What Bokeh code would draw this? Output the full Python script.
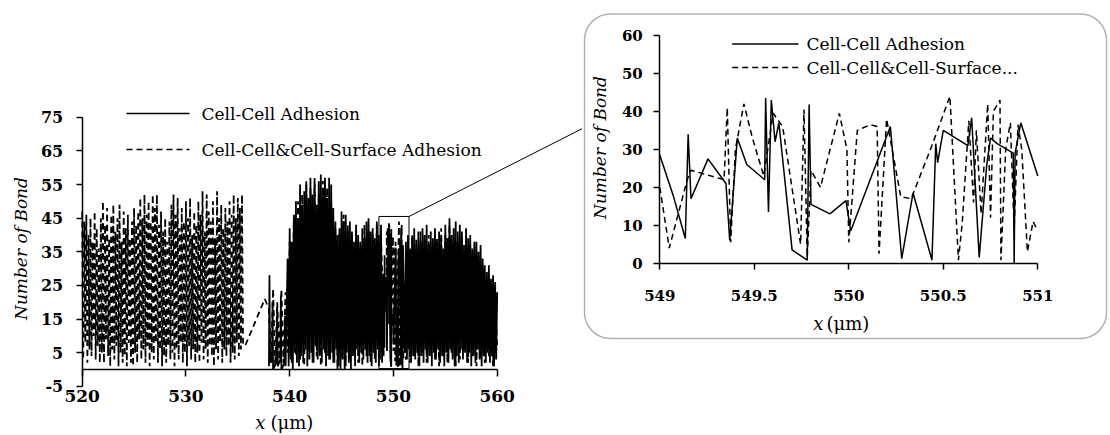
import math
from bokeh.plotting import figure
from bokeh.layouts import row
from bokeh.models import Label, Arrow, FixedTicker, Range1d, BoxAnnotation
from bokeh.embed import file_html
from bokeh.resources import INLINE

FONT = "DejaVu Serif"

# ---------------- data ----------------
series_names = ["Cell-Cell Adhesion", "Cell-Cell&Cell-Surface Adhesion"]
inset_names = ["Cell-Cell Adhesion", "Cell-Cell&Cell-Surface..."]

x_ticks_main = [520, 530, 540, 550, 560]
y_ticks_main = [-5, 5, 15, 25, 35, 45, 55, 65, 75]
y_tick_labels_main = ["-5", "5", "15", "25", "35", "45", "55", "65", "75"]
x_ticks_inset = [549, 549.5, 550, 550.5, 551]
x_tick_labels_inset = ["549", "549.5", "550", "550.5", "551"]
y_ticks_inset = [0, 10, 20, 30, 40, 50, 60]

# zoom window drawn on the main chart
zoom_box_x = [548.6, 551.5]
zoom_box_y = [0.3, 45.5]

# --- Cell-Cell Adhesion (solid) ---
cc_a_x = [538.0, 538.05, 538.1, 538.3, 538.35, 538.4, 538.7, 538.8, 538.85,
          539.1, 539.15, 539.2, 539.5, 539.55, 539.6]
cc_a_y = [1, 28, 2, 3, 20, 0, 2, 18, 1, 3, 22, 0, 2, 16, 1]
cc_b_start, cc_b_step = 539.8, 0.1
cc_b_y = [33, 1,
          42, 3, 38, 0, 46, 5, 50, 2, 44, 1,
          55, 4, 49, 2, 53, 6, 56, 1, 51, 3,
          57, 5, 52, 2, 55, 7, 49, 3, 56, 4,
          58, 2, 54, 6, 57, 1, 51, 4, 57, 3,
          55, 5, 48, 2, 43, 6, 40, 1, 42, 0,
          47, 3, 44, 0, 46, 5, 41, 2, 44, 0,
          41, 4, 38, 1, 43, 6, 40, 2, 37, 5,
          42, 3, 39, 6, 44, 2, 45, 4, 41, 1,
          42, 5, 39, 2, 44, 6, 40, 3, 43, 2]
cc_inset_x = [549.0, 549.07, 549.135, 549.15, 549.165, 549.255, 549.35, 549.37,
              549.41, 549.46, 549.555, 549.56, 549.575, 549.59, 549.61, 549.63,
              549.7, 549.78, 549.79, 549.8, 549.9, 549.985, 550.01, 550.22,
              550.28, 550.34, 550.44, 550.46, 550.47, 550.5, 550.63, 550.65,
              550.69, 550.73, 550.75, 550.785, 550.87, 550.875, 550.88, 550.91,
              551.0]
cc_inset_y = [28.5, 18, 6.5, 34, 17, 27.5, 21, 6,
              33, 26, 22, 43.5, 13.5, 43, 32, 37,
              3.5, 0.8, 41.8, 15.5, 13, 16.5, 8.5, 36,
              1.2, 18.5, 0.8, 31.5, 26.5, 35, 31, 38.3,
              1.5, 26, 33, 31.5, 29, 0, 29, 37,
              23]
cc_c_start, cc_c_step = 551.1, 0.1
cc_c_y = [5, 38, 3, 40, 6, 36, 2, 39, 4,
          42, 3, 37, 5, 41, 1, 38, 4, 42, 2,
          40, 6, 43, 2, 37, 4, 41, 1, 39, 5,
          42, 3, 38, 6, 41, 2, 39, 4, 36, 1,
          43, 5, 39, 2, 45, 6, 40, 3, 42, 1,
          44, 4, 38, 2, 43, 6, 41, 3, 37, 5,
          42, 2, 39, 5, 40, 1, 36, 4, 38, 2,
          38, 6, 35, 3, 37, 1, 33, 4, 31, 2,
          29, 5, 31, 2, 27, 4, 28, 1, 26, 3,
          23]

# --- Cell-Cell & Cell-Surface Adhesion (dashed) ---
ccs_a_start, ccs_a_step = 520.0, 0.1
ccs_a_y = [47, 3, 44, 8, 46, 2, 40, 6, 45, 4,
           38, 10, 47, 3, 42, 7, 36, 2, 45, 5,
           50, 2, 43, 9, 48, 4, 39, 1, 46, 6,
           49, 3, 41, 7, 45, 1, 49, 5, 38, 2,
           47, 4, 42, 1, 46, 8, 39, 2, 44, 1,
           48, 5, 43, 2, 47, 9, 51, 3, 45, 6,
           52, 2, 46, 7, 50, 1, 44, 5, 52, 3,
           48, 8, 52, 2, 43, 6, 47, 1, 41, 4,
           45, 2, 38, 7, 44, 3, 49, 5, 52, 1,
           46, 6, 51, 3, 42, 8, 48, 2, 44, 5,
           50, 1, 45, 7, 51, 3, 40, 6, 47, 2,
           43, 5, 50, 2, 46, 8, 53, 3, 41, 6,
           52, 2, 47, 7, 44, 4, 50, 1, 39, 6,
           53, 3, 45, 8, 49, 2, 42, 6, 48, 4,
           44, 7, 50, 2, 46, 5, 52, 3, 45, 8,
           51, 4, 48, 6, 52, 8]
ccs_b_x = [535.7, 537.6]
ccs_b_y = [7, 21]
ccs_c_start, ccs_c_step = 538.0, 0.2
ccs_c_y = [18, 2, 24, 1, 20,
           3, 24, 2, 23, 5,
           38, 2, 45, 4, 50,
           3, 52, 1, 55, 6,
           54, 2, 57, 4, 52,
           1, 56, 5, 54, 3,
           50, 2, 44, 0, 41,
           4, 46, 1, 43, 3,
           40, 5, 42, 2, 38,
           1, 43, 4, 41, 2,
           40, 3, 43, 1, 39]
ccs_inset_x = [549.0, 549.05, 549.145, 549.165, 549.235, 549.34, 549.357, 549.375,
               549.4, 549.445, 549.49, 549.55, 549.6, 549.65, 549.745, 549.763,
               549.78, 549.8, 549.85, 549.95, 549.99, 550.0, 550.045, 550.115,
               550.15, 550.16, 550.2, 550.275, 550.33, 550.44, 550.535, 550.58,
               550.6, 550.635, 550.66, 550.675, 550.7, 550.735, 550.75, 550.765,
               550.8, 550.805, 550.83, 550.855, 550.875, 550.895, 550.915, 550.945,
               550.975, 551.0]
ccs_inset_y = [20, 4, 22, 24.5, 23.5, 22, 41, 5.5,
               30, 42, 33, 23, 39.5, 36, 5, 40.5,
               1.5, 24.5, 20, 39.5, 30, 5.5, 35, 36.5,
               36, 2.5, 38, 17.5, 17, 31, 44, 0.8,
               10.5, 37.5, 16, 35, 13, 42, 12, 40,
               43, 0.8, 30, 37, 9, 36.5, 30, 3,
               11, 8.5]
ccs_d_start, ccs_d_step = 551.2, 0.2
ccs_d_y = [3, 38, 2, 40,
           4, 39, 1, 41, 5,
           38, 2, 40, 6, 37,
           3, 39, 1, 42, 4,
           40, 2, 43, 5, 38,
           1, 41, 3, 39, 6,
           38, 2, 37, 4, 35,
           1, 34, 3, 30, 2,
           27, 4, 25, 1, 22,
           6]


def grid(start, step, n):
    return [round(start + step * i, 3) for i in range(n)]


cc_x = cc_a_x + grid(cc_b_start, cc_b_step, len(cc_b_y)) + cc_inset_x + grid(cc_c_start, cc_c_step, len(cc_c_y))
cc_y = cc_a_y + cc_b_y + cc_inset_y + cc_c_y
ccs_x = (grid(ccs_a_start, ccs_a_step, len(ccs_a_y)) + ccs_b_x
         + grid(ccs_c_start, ccs_c_step, len(ccs_c_y)) + ccs_inset_x
         + grid(ccs_d_start, ccs_d_step, len(ccs_d_y)))
ccs_y = ccs_a_y + ccs_b_y + ccs_c_y + ccs_inset_y + ccs_d_y

# ---------------- layout geometry (pixels) ----------------
DASH = "6 4"
LW = 1.5          # inset / legend lines
LW_MAIN = 1.8     # dense main-chart lines
H = 433

MAIN_W = 582
M_X0, M_X1 = 81.7, 496.7      # canvas x of 520 and 560
M_YT, M_YB = 116.7, 385.9     # canvas y (from top) of 75 and -5

INS_W = 526                    # inset canvas starts at page x = MAIN_W
I_X0, I_X1 = 77.3, 455.3      # canvas x of 549 and 551
I_YT, I_YB = 35.0, 262.7      # canvas y (from top) of 60 and 0
BOX = (2, 524, 13.5, 338)      # rounded frame: left, right, top, bottom (canvas px)


def ranges(x_lo, x_hi, px0, px1, y_lo, y_hi, py_top, py_bot, w, h):
    sx = (px1 - px0) / (x_hi - x_lo)
    sy = (py_bot - py_top) / (y_hi - y_lo)
    xr = Range1d(x_lo - px0 / sx, x_hi + (w - px1) / sx)
    yr = Range1d(y_lo - (h - py_bot) / sy, y_hi + py_top / sy)
    return xr, yr


def style_axis(ax, size, tick_out, standoff):
    ax.axis_line_color = "black"
    ax.axis_line_width = 1.5
    ax.major_tick_line_color = "black"
    ax.major_tick_line_width = 1.5
    ax.major_tick_in = 0
    ax.major_tick_out = tick_out
    ax.minor_tick_line_color = None
    ax.major_label_text_font = FONT
    ax.major_label_text_font_style = "bold"
    ax.major_label_text_font_size = size
    ax.major_label_text_color = "black"
    ax.major_label_standoff = standoff


def label(fig, x, y, text, size="17px", style="normal", align="left", angle=0.0):
    # x: pixels from the canvas left; y: pixels from the canvas top
    fig.add_layout(Label(x=x, y=H - y, x_units="screen", y_units="screen", text=text,
                         text_font=FONT, text_font_size=size, text_font_style=style,
                         text_align=align, text_baseline="middle", text_color="black",
                         angle=angle))


def hline(fig, x0, x1, y, dash="solid"):
    fig.add_layout(Arrow(end=None, x_start=x0, y_start=H - y, x_end=x1, y_end=H - y,
                         start_units="screen", end_units="screen",
                         line_color="black", line_width=LW, line_dash=dash))


# ---------------- main chart ----------------
xr, yr = ranges(x_ticks_main[0], x_ticks_main[-1], M_X0, M_X1,
                y_ticks_main[0], y_ticks_main[-1], M_YT, M_YB, MAIN_W, H)
p = figure(width=MAIN_W, height=H, x_range=xr, y_range=yr, title=None,
           output_backend="svg", toolbar_location=None, min_border=0)
p.outline_line_color = None
p.grid.visible = False
p.xaxis.fixed_location = 0
p.xaxis.bounds = (x_ticks_main[0], x_ticks_main[-1])
p.xaxis.ticker = FixedTicker(ticks=x_ticks_main)
style_axis(p.xaxis[0], "17px", 7, 13)
p.yaxis.fixed_location = x_ticks_main[0]
p.yaxis.bounds = (y_ticks_main[0], y_ticks_main[-1])
p.yaxis.ticker = FixedTicker(ticks=y_ticks_main)
p.yaxis.major_label_overrides = {t: s for t, s in zip(y_ticks_main, y_tick_labels_main)}
style_axis(p.yaxis[0], "16px", 6, 13)

p.line(cc_x, cc_y, line_color="black", line_width=LW_MAIN)
p.line(ccs_x, ccs_y, line_color="black", line_width=LW_MAIN, line_dash=DASH)

# zoom window and connector to the inset frame
p.quad(left=[zoom_box_x[0]], right=[zoom_box_x[1]], bottom=[zoom_box_y[0]], top=[zoom_box_y[1]],
       fill_alpha=0, line_color="black", line_width=1)
p.add_layout(Arrow(end=None, x_start=zoom_box_x[1], y_start=zoom_box_y[1],
                   x_end=MAIN_W, y_end=H - 128, end_units="screen",
                   line_color="black", line_width=1))

# titles
label(p, 20, 248, "Number of Bond", style="italic", align="center", angle=math.pi / 2)
label(p, 265, 421.5, "x", size="18px", style="italic", align="right")
label(p, 270, 421.5, "(μm)", size="18px")

# legend
for yy, name, dash in [(113, series_names[0], "solid"), (149, series_names[1], DASH)]:
    hline(p, 126, 189, yy, dash)
    label(p, 201, yy, name)

# ---------------- inset ----------------
xr2, yr2 = ranges(x_ticks_inset[0], x_ticks_inset[-1], I_X0, I_X1,
                  y_ticks_inset[0], y_ticks_inset[-1], I_YT, I_YB, INS_W, H)
q = figure(width=INS_W, height=H, x_range=xr2, y_range=yr2, title=None,
           output_backend="svg", toolbar_location=None, min_border=0)
q.outline_line_color = None
q.grid.visible = False
q.xaxis.fixed_location = y_ticks_inset[0]
q.xaxis.bounds = (x_ticks_inset[0], x_ticks_inset[-1])
q.xaxis.ticker = FixedTicker(ticks=x_ticks_inset)
q.xaxis.major_label_overrides = {t: s for t, s in zip(x_ticks_inset, x_tick_labels_inset)}
style_axis(q.xaxis[0], "15px", 6, 21)
q.yaxis.fixed_location = x_ticks_inset[0]
q.yaxis.bounds = (y_ticks_inset[0], y_ticks_inset[-1])
q.yaxis.ticker = FixedTicker(ticks=y_ticks_inset)
style_axis(q.yaxis[0], "15px", 6, 11)

q.line(cc_inset_x, cc_inset_y, line_color="black", line_width=LW)
q.line(ccs_inset_x, ccs_inset_y, line_color="black", line_width=LW, line_dash=DASH)


def to_data(xrng, yrng, w, px, py):
    x = xrng.start + px / w * (xrng.end - xrng.start)
    y = yrng.end - py / H * (yrng.end - yrng.start)
    return x, y


bl, bb = to_data(xr2, yr2, INS_W, BOX[0], BOX[3])
br, bt = to_data(xr2, yr2, INS_W, BOX[1], BOX[2])
q.add_layout(BoxAnnotation(left=bl, right=br, bottom=bb, top=bt,
                           fill_alpha=0, line_color="black", line_width=1.5,
                           border_radius=26))

label(q, 17, 147, "Number of Bond", style="italic", align="center", angle=math.pi / 2)
label(q, 241, 323, "x", size="18px", style="italic", align="right")
label(q, 244, 323, "(μm)", size="18px")

for yy, name, dash in [(43.5, inset_names[0], "solid"), (67, inset_names[1], DASH)]:
    hline(q, 149.7, 216, yy, dash)
    label(q, 224, yy, name)

layout = row(p, q)
open("out.html", "w").write(file_html(layout, INLINE))
